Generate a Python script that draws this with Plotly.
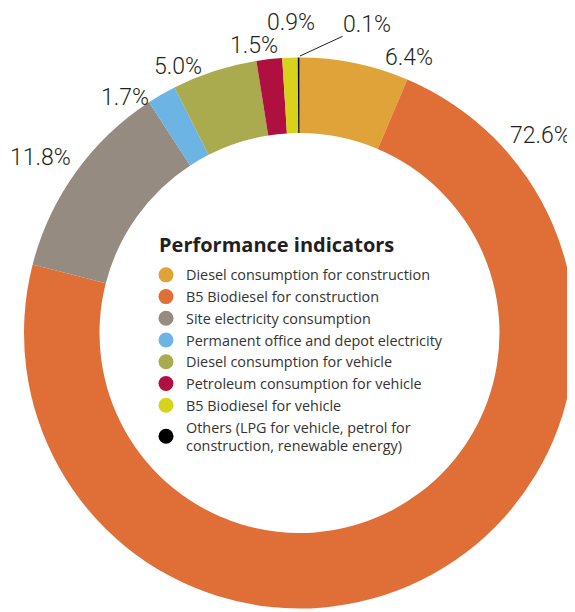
import plotly.graph_objects as go

categories = [
    "Diesel consumption for construction",
    "B5 Biodiesel for construction",
    "Site electricity consumption",
    "Permanent office and depot electricity",
    "Diesel consumption for vehicle",
    "Petroleum consumption for vehicle",
    "B5 Biodiesel for vehicle",
    "Others (LPG for vehicle, petrol for<br>construction, renewable energy)",
]
shares = [6.4, 72.6, 11.8, 1.7, 5.0, 1.5, 0.9, 0.1]
colors = ["#E0A33A", "#DF6E37", "#958B81", "#6BB4E3",
          "#A9AB4E", "#B0103F", "#D6D31A", "#000000"]
legend_title = "Performance indicators"

# The page body has an 8px margin, so the figure is 8px smaller and all
# reference pixel positions are shifted by OFF.
OFF = 8
W, H = 575 - OFF, 612 - OFF
# label positions (reference pixels) for percentage text
label_px = [(409, 58), (540, 136), (40, 157), (125, 98),
            (178, 66), (254, 46), (291, 23), (367, 25)]


def px_x(x):
    return (x - OFF) / W


def px_y(y):
    return 1 - (y - OFF) / H


fig = go.Figure()
fig.add_trace(go.Pie(
    values=shares, labels=categories, sort=False, direction="clockwise",
    rotation=0, hole=200 / 275.5, textinfo="none", hoverinfo="label+percent",
    marker=dict(colors=colors, line=dict(width=0)), showlegend=False,
    domain=dict(x=[16 / W, 1.0], y=[3 / H, 555 / H]),
))

for name, col in zip(categories, colors):
    fig.add_trace(go.Scatter(
        x=[None], y=[None], mode="markers", name=name,
        marker=dict(color=col, size=15, symbol="circle"),
    ))

annotations = []
for i, (v, (px, py)) in enumerate(zip(shares, label_px)):
    a = dict(text=f"{v:.1f}%", xref="paper", yref="paper",
             x=px_x(px), y=px_y(py), showarrow=False, borderpad=0,
             font=dict(family="Roboto", size=23, color="#231F20",
                       weight=300),
             xanchor="center", yanchor="middle")
    if i == len(shares) - 1:
        a.update(x=px_x(300), y=px_y(56), showarrow=True, arrowhead=0,
                 arrowwidth=1, arrowcolor="#231F20",
                 ax=px - 300, ay=py - 56)
    annotations.append(a)

annotations.append(dict(
    text=f"<b>{legend_title}</b>", xref="paper", yref="paper",
    x=px_x(157), y=px_y(244), xanchor="left", yanchor="middle",
    showarrow=False,
    font=dict(family="Open Sans", size=20, color="#231F20"),
))

fig.update_layout(
    width=W, height=H, autosize=False,
    margin=dict(l=0, r=0, t=0, b=0),
    paper_bgcolor="white", plot_bgcolor="white",
    xaxis=dict(visible=False), yaxis=dict(visible=False),
    annotations=annotations,
    legend=dict(
        x=px_x(146), y=px_y(259), xanchor="left", yanchor="top",
        font=dict(family="Open Sans", size=14.4, color="#333333"),
        bgcolor="rgba(0,0,0,0)", tracegroupgap=0,
    ),
)

fig.write_html("out.html")
